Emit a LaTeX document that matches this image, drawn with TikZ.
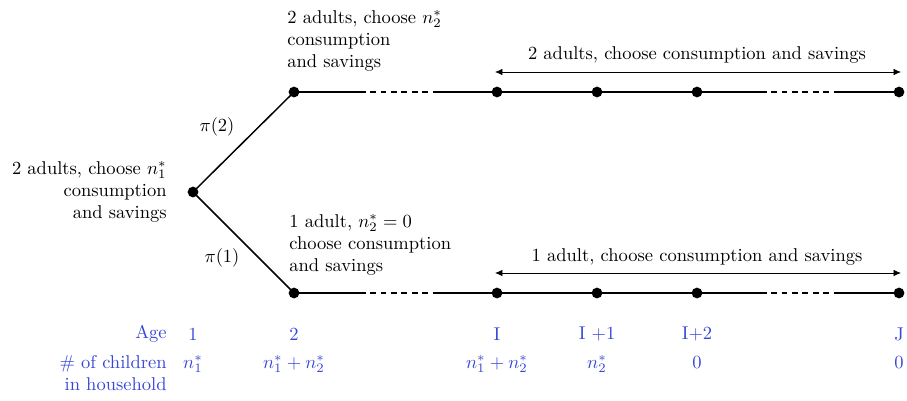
\documentclass[tikz,border=0pt]{standalone}
\usetikzlibrary{arrows.meta}
\definecolor{agecol}{RGB}{55,70,215}
\begin{document}
\begin{tikzpicture}[x=0.54pt,y=-0.54pt,
  dotn/.style={circle,fill=black,inner sep=0pt,minimum size=5.8pt},
  branch/.style={line width=0.8pt},
  dashseg/.style={line width=0.8pt,dash pattern=on 3.1pt off 2.5pt},
  span/.style={{Latex[length=4pt,width=3.5pt]}-{Latex[length=4pt,width=3.5pt]},line width=0.4pt},
  lbl/.style={inner sep=0pt,align=left,font=\normalsize},
  blu/.style={inner sep=0pt,text=agecol},
]
\useasboundingbox (0,0) rectangle (907,400);
% nodes
\node[dotn] (r) at (193,192) {};
\node[dotn] (u2) at (294,92) {};
\node[dotn] (uI) at (497,92) {};
\node[dotn] (uI1) at (597,92) {};
\node[dotn] (uI2) at (697,92) {};
\node[dotn] (uJ) at (899,92) {};
\node[dotn] (l2) at (294,293) {};
\node[dotn] (lI) at (497,293) {};
\node[dotn] (lI1) at (597,293) {};
\node[dotn] (lI2) at (697,293) {};
\node[dotn] (lJ) at (899,293) {};
\coordinate (ua) at (360,92); \coordinate (ub) at (433,92);
\coordinate (uc) at (761,92); \coordinate (ud) at (836,92);
\coordinate (la) at (360,293); \coordinate (lb) at (433,293);
\coordinate (lc) at (761,293); \coordinate (ld) at (836,293);
% branches
\draw[branch] (r.center) -- (u2.center);
\draw[branch] (r.center) -- (l2.center);
\draw[branch] (u2.center) -- (ua);
\draw[dashseg] (ua) -- (ub);
\draw[branch] (ub) -- (uI.center) -- (uI1.center) -- (uI2.center) -- (uc);
\draw[dashseg] (uc) -- (ud);
\draw[branch] (ud) -- (uJ.center);
\draw[branch] (l2.center) -- (la);
\draw[dashseg] (la) -- (lb);
\draw[branch] (lb) -- (lI.center) -- (lI1.center) -- (lI2.center) -- (lc);
\draw[dashseg] (lc) -- (ld);
\draw[branch] (ld) -- (lJ.center);
% probabilities
\node (p2) at (217,127) {$\pi(2)$};
\node (p1) at (222,258) {$\pi(1)$};
% arrows
\coordinate (usa) at (495,72); \coordinate (usb) at (901,72);
\coordinate (lsa) at (495,273); \coordinate (lsb) at (901,273);
\draw[span] (usa) -- (usb);
\draw[span] (lsa) -- (lsb);
\node (ut) at (697,55) {2 adults, choose consumption and savings};
\node (lt) at (697,257) {1 adult, choose consumption and savings};
% texts
\node[lbl,anchor=north west] (tu) at (287,10) {2 adults, choose $n_2^*$\\consumption\\and savings};
\node[lbl,anchor=north west] (tl) at (289,214) {1 adult, $n_2^*=0$\\choose consumption\\and savings};
\node[lbl,align=right,anchor=east] (tr) at (167,192) {2 adults, choose $n_1^*$\\consumption\\and savings};
% bottom rows
\node[blu,anchor=east] (age) at (167,334) {Age};
\node[blu,anchor=north east,align=right] (nch) at (167,355) {\# of children\\in household};
\node[blu] (a1) at (193,334) {1};
\node[blu] (a2) at (294,334) {2};
\node[blu] (a3) at (497,334) {I};
\node[blu] (a4) at (597,334) {I +1};
\node[blu] (a5) at (697,334) {I+2};
\node[blu] (a6) at (899,334) {J};
\node[blu,anchor=base] (c1) at (193,368) {$n_1^*$};
\node[blu,anchor=base] (c2) at (294,368) {$n_1^*+n_2^*$};
\node[blu,anchor=base] (c3) at (497,368) {$n_1^*+n_2^*$};
\node[blu,anchor=base] (c4) at (597,368) {$n_2^*$};
\node[blu,anchor=base] (c5) at (697,368) {$0$};
\node[blu,anchor=base] (c6) at (899,368) {$0$};
\end{tikzpicture}
\end{document}
